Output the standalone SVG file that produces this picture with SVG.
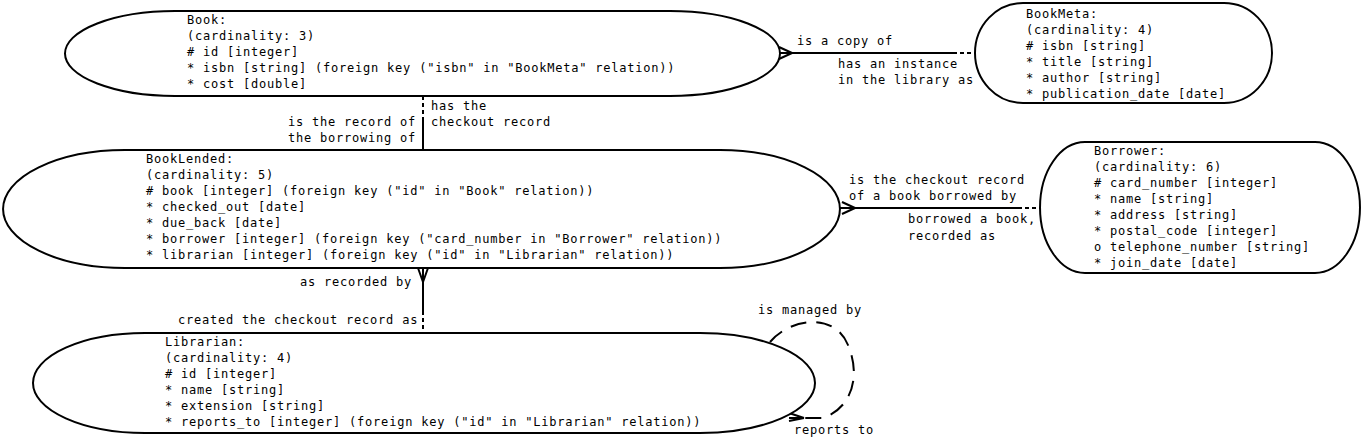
<svg xmlns="http://www.w3.org/2000/svg" width="1362" height="437" viewBox="0 0 1362 437">
<style>
text{font-family:"DejaVu Sans Mono","Liberation Mono",monospace;font-size:12px;letter-spacing:0.78px;fill:#000}
.shape{fill:#fff;stroke:#000;stroke-width:2}
.c{fill:none;stroke:#000;stroke-width:2}
.d{fill:none;stroke:#000;stroke-width:2;stroke-dasharray:4 3}
.ld{fill:none;stroke:#000;stroke-width:2;stroke-dasharray:16 10}
</style>
<rect width="1362" height="437" fill="#fff"/>
<g id="connectors">
  <!-- Book - BookMeta -->
  <path class="c" d="M780,53 H953"/>
  <path class="d" d="M953,53 H976"/>
  <path class="c" d="M792,53 L779,47 M792,53 L779,59 M792,53 L779,53"/>
  <text x="797" y="45">is a copy of</text>
  <text x="838" y="68">has an instance</text>
  <text x="838" y="84">in the library as</text>
  <!-- Book - BookLended -->
  <path class="d" d="M423,96 V117"/>
  <path class="c" d="M423,117 V150"/>
  <text x="288" y="126">is the record of</text>
  <text x="288" y="142">the borrowing of</text>
  <text x="431" y="110">has the</text>
  <text x="431" y="126">checkout record</text>
  <!-- BookLended - Borrower -->
  <path class="c" d="M840,208 H1018"/>
  <path class="d" d="M1018,208 H1041"/>
  <path class="c" d="M855,208 L842,202 M855,208 L842,214 M855,208 L842,208"/>
  <text x="849" y="184">is the checkout record</text>
  <text x="849" y="200">of a book borrowed by</text>
  <text x="908" y="223">borrowed a book,</text>
  <text x="908" y="240">recorded as</text>
  <!-- BookLended - Librarian -->
  <path class="c" d="M423,268 V311"/>
  <path class="d" d="M423,311 V333"/>
  <path class="c" d="M423,282 L418,268 M423,282 L428,268 M423,282 L423,268"/>
  <text x="300" y="286">as recorded by</text>
  <text x="178" y="324">created the checkout record as</text>
  <!-- Librarian self loop -->
  <path class="ld" d="M770,342 C790,318 835,312 848,345 C862,378 850,410 822,418 L792,418"/>
  <path class="c" d="M804,418 L789,413 M804,418 L789,421 M804,418 L789,418"/>
  <text x="758" y="314">is managed by</text>
  <text x="794" y="434">reports to</text>
</g>
<g id="Book">
  <path class="shape" d="M175,11 H670 A110,42.5 0 0 1 670,96 H175 A110,42.5 0 0 1 175,11 Z"/>
  <text x="187" y="24">Book:</text>
  <text x="187" y="40">(cardinality: 3)</text>
  <text x="187" y="56"># id [integer]</text>
  <text x="187" y="72">* isbn [string] (foreign key ("isbn" in "BookMeta" relation))</text>
  <text x="187" y="88">* cost [double]</text>
</g>
<g id="BookMeta">
  <path class="shape" d="M1023,3 H1224 A48,50 0 0 1 1224,103 H1023 A48,50 0 0 1 1023,3 Z"/>
  <text x="1026" y="18">BookMeta:</text>
  <text x="1026" y="34">(cardinality: 4)</text>
  <text x="1026" y="50"># isbn [string]</text>
  <text x="1026" y="66">* title [string]</text>
  <text x="1026" y="82">* author [string]</text>
  <text x="1026" y="98">* publication_date [date]</text>
</g>
<g id="BookLended">
  <path class="shape" d="M125,150 H720 A120,59 0 0 1 720,268 H125 A122,59 0 0 1 125,150 Z"/>
  <text x="146" y="163">BookLended:</text>
  <text x="146" y="179">(cardinality: 5)</text>
  <text x="146" y="195"># book [integer] (foreign key ("id" in "Book" relation))</text>
  <text x="146" y="211">* checked_out [date]</text>
  <text x="146" y="227">* due_back [date]</text>
  <text x="146" y="243">* borrower [integer] (foreign key ("card_number in "Borrower" relation))</text>
  <text x="146" y="259">* librarian [integer] (foreign key ("id" in "Librarian" relation))</text>
</g>
<g id="Borrower">
  <path class="shape" d="M1085,142 H1315 A45,65.5 0 0 1 1315,273 H1085 A45,65.5 0 0 1 1085,142 Z"/>
  <text x="1094" y="155">Borrower:</text>
  <text x="1094" y="171">(cardinality: 6)</text>
  <text x="1094" y="187"># card_number [integer]</text>
  <text x="1094" y="203">* name [string]</text>
  <text x="1094" y="219">* address [string]</text>
  <text x="1094" y="235">* postal_code [integer]</text>
  <text x="1094" y="251">o telephone_number [string]</text>
  <text x="1094" y="267">* join_date [date]</text>
</g>
<g id="Librarian">
  <path class="shape" d="M145,333 H700 A115,50 0 0 1 700,433 H145 A112,50 0 0 1 145,333 Z"/>
  <text x="165" y="346">Librarian:</text>
  <text x="165" y="362">(cardinality: 4)</text>
  <text x="165" y="378"># id [integer]</text>
  <text x="165" y="394">* name [string]</text>
  <text x="165" y="410">* extension [string]</text>
  <text x="165" y="426">* reports_to [integer] (foreign key ("id" in "Librarian" relation))</text>
</g>
</svg>
